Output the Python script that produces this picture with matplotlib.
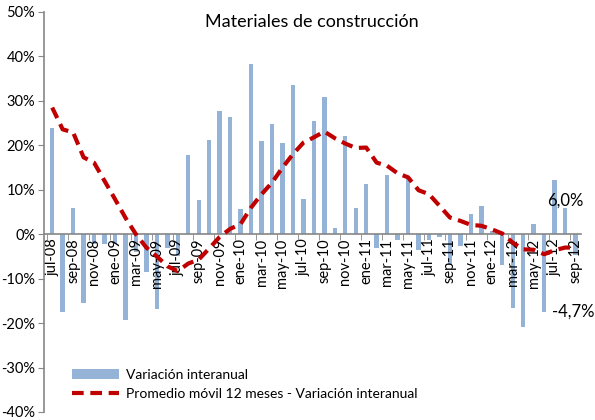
import matplotlib
matplotlib.use("Agg")
import matplotlib.pyplot as plt
from matplotlib.ticker import FixedLocator, FuncFormatter

plt.rcParams['font.family'] = ['Lato', 'DejaVu Sans']

# Monthly labels, Jul-2008 .. Sep-2012
meses = ["ene", "feb", "mar", "abr", "may", "jun",
         "jul", "ago", "sep", "oct", "nov", "dic"]
categorias = []
for k in range(51):
    m = (6 + k) % 12
    a = 8 + (6 + k) // 12
    categorias.append(f"{meses[m]}-{a:02d}")

# Year-on-year change (%)
variacion = [24.0, -17.5, 5.8, -15.5, -2.3, -2.3, -2.3, -19.4, -4.0, -8.5,
             -16.8, -3.0, -5.0, 17.9, 7.6, 21.2, 27.8, 26.3, 5.6, 38.4,
             20.9, 24.9, 20.6, 33.5, 8.0, 25.5, 30.8, 1.3, 22.1, 6.0,
             11.3, -3.0, 13.3, -1.4, 12.8, -3.6, -1.4, -0.7, -6.9, -2.6,
             4.5, 6.3, 0.8, -6.9, -16.5, -20.8, 2.3, -17.6, 12.2, 6.0,
             -4.7]

# 12-month moving average of the year-on-year change (%)
promedio = [28.5, 23.6, 22.9, 17.3, 16.1, 12.0, 7.9, 3.7, 0.0, -3.0,
            -5.0, -7.2, -8.3, -6.6, -5.7, -3.2, -0.6, 1.2, 2.3, 6.0,
            9.0, 11.6, 15.0, 18.0, 20.6, 21.8, 23.1, 21.6, 20.4, 19.4,
            19.5, 16.1, 15.4, 13.7, 12.8, 9.9, 9.0, 6.4, 3.75, 3.0,
            2.1, 1.9, 1.1, 0.15, -1.9, -3.4, -3.5, -4.5, -3.6, -3.0,
            -3.0]

x = list(range(len(categorias)))

fig = plt.figure(figsize=(5.95, 4.2), dpi=100)
ax = fig.add_axes([43.5 / 595, 1 - 412 / 420, (581 - 43.5) / 595, 400 / 420])

barras = ax.bar(x, variacion, width=0.42, color="#95B3D7", zorder=1,
                label="Variación interanual")
linea, = ax.plot(x, promedio, color="#C00000", lw=3.0, ls=(0, (2.8, 1.6)),
                 zorder=3, label="Promedio móvil 12 meses - Variación interanual")

ax.set_ylim(-40, 50)
ax.set_xlim(-0.83, 50.52)
ax.set_yticks(range(-40, 51, 10))
ax.yaxis.set_major_formatter(FuncFormatter(lambda v, p: f"{int(v)}%"))

ax.set_xticks(x[::2])
ax.set_xticklabels(categorias[::2])
ax.xaxis.set_minor_locator(FixedLocator([i - 0.5 for i in x[::2]]))

axis_col = "#868686"
for s in ("top", "right"):
    ax.spines[s].set_visible(False)
ax.spines["bottom"].set_position(("data", 0))
ax.spines["bottom"].set_color(axis_col)
ax.spines["left"].set_color(axis_col)
ax.spines["bottom"].set_linewidth(1.2)
ax.spines["left"].set_linewidth(1.2)

ax.tick_params(axis="y", direction="out", length=4, color=axis_col,
               labelsize=10.5, pad=2)
ax.tick_params(axis="x", which="major", length=0, labelsize=10.5, pad=3,
               labelrotation=90)
ax.tick_params(axis="x", which="minor", direction="out", length=4,
               color=axis_col)

# Value labels for the last months
ax.annotate("6,0%", xy=(49, variacion[49]), xytext=(0, -1),
            textcoords="offset points", ha="center", va="bottom", fontsize=12)
ax.annotate("-4,7%", xy=(50, variacion[50]), xytext=(-2, -35),
            textcoords="offset points", ha="center", va="top", fontsize=12)

fig.text(312 / 595, 1 - 22 / 420, "Materiales de construcción",
         ha="center", va="center", fontsize=13)

ax.legend(handles=[barras, linea], loc="lower left",
          bbox_to_anchor=(0.03, 0.0), frameon=False,
          fontsize=10, handlelength=3.4, handletextpad=0.5, labelspacing=0.5)

fig.savefig("out.png", dpi=100)
